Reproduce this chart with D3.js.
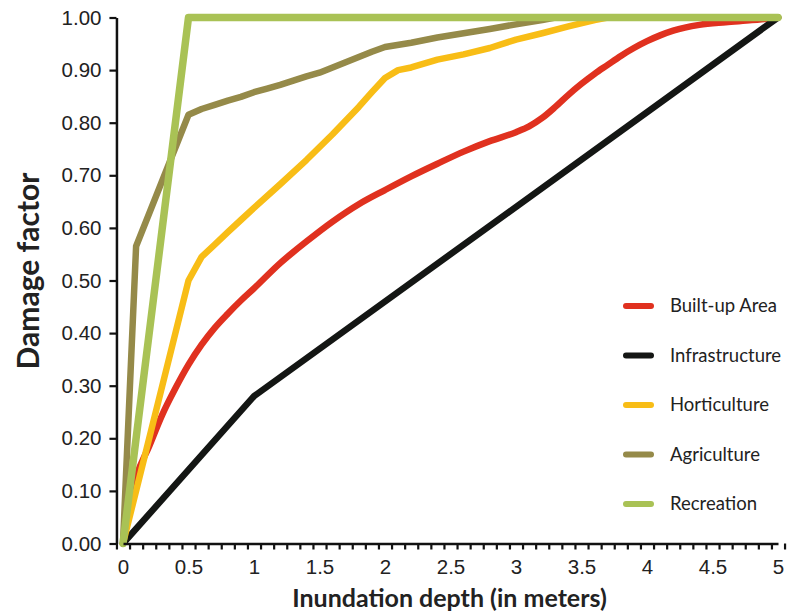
<!DOCTYPE html>
<html>
<head>
<meta charset="utf-8">
<script src="https://cdn.jsdelivr.net/npm/d3@7"></script>
<style>
  html, body { margin: 0; padding: 0; background: #fff; }
  svg { display: block; font-family: Lato, "Open Sans", sans-serif; }
  .axis path, .axis line { stroke: #111; }
  .axis text { fill: #222; }
</style>
</head>
<body>
<svg id="chart" width="790" height="613"></svg>
<script>
// Depth-damage curves: [inundation depth (m), damage factor]
const builtUpArea = [
  [0, 0], [0.1, 0.125], [0.2, 0.185], [0.3, 0.245], [0.4, 0.295], [0.5, 0.34],
  [0.6, 0.378], [0.7, 0.41], [0.8, 0.437], [0.9, 0.462], [1.0, 0.485],
  [1.2, 0.533], [1.4, 0.574], [1.6, 0.612], [1.8, 0.645], [2.0, 0.672],
  [2.2, 0.698], [2.4, 0.722], [2.6, 0.745], [2.8, 0.765], [3.0, 0.782],
  [3.1, 0.793], [3.2, 0.809], [3.3, 0.83], [3.4, 0.853], [3.5, 0.874],
  [3.6, 0.893], [3.7, 0.91], [3.8, 0.927], [3.9, 0.942], [4.0, 0.955],
  [4.1, 0.966], [4.2, 0.975], [4.4, 0.986], [4.6, 0.991], [4.8, 0.995], [5.0, 1.0]
];
const infrastructure = [[0, 0], [1.0, 0.28], [5.0, 1.0]];
const horticulture = [
  [0, 0], [0.5, 0.5], [0.6, 0.545], [0.7, 0.568], [0.8, 0.592], [0.9, 0.615],
  [1.0, 0.638], [1.2, 0.683], [1.4, 0.729], [1.6, 0.778], [1.8, 0.83],
  [1.9, 0.858], [2.0, 0.885], [2.1, 0.9], [2.2, 0.905], [2.4, 0.92],
  [2.6, 0.93], [2.8, 0.942], [3.0, 0.958], [3.2, 0.97], [3.4, 0.983],
  [3.6, 0.995], [3.7, 1.0], [5.0, 1.0]
];
const agriculture = [
  [0, 0], [0.1, 0.565], [0.5, 0.815], [0.6, 0.826], [0.7, 0.834], [0.8, 0.842],
  [0.9, 0.849], [1.0, 0.858], [1.1, 0.865], [1.2, 0.872], [1.3, 0.88],
  [1.4, 0.888], [1.5, 0.895], [1.6, 0.905], [1.7, 0.915], [1.8, 0.925],
  [1.9, 0.935], [2.0, 0.944], [2.2, 0.952], [2.4, 0.962], [2.6, 0.97],
  [2.8, 0.978], [3.0, 0.987], [3.2, 0.995], [3.3, 1.0], [5.0, 1.0]
];
const recreation = [[0, 0], [0.5, 1.0], [5.0, 1.0]];

const seriesNames = ["Built-up Area", "Infrastructure", "Horticulture", "Agriculture", "Recreation"];
const seriesData = [builtUpArea, infrastructure, horticulture, agriculture, recreation];

const xTickLabels = [0, 0.5, 1, 1.5, 2, 2.5, 3, 3.5, 4, 4.5, 5];
const yTickLabels = [0, 0.1, 0.2, 0.3, 0.4, 0.5, 0.6, 0.7, 0.8, 0.9, 1.0];

// Styling per series (same order as the names)
const seriesColors = ["#e0311f", "#141614", "#f8bd16", "#958a49", "#a9c255"];
const seriesWidths = [6.5, 6.5, 6.5, 6.5, 7.5];
const seriesCurves = [d3.curveMonotoneX, d3.curveLinear, d3.curveLinear, d3.curveLinear, d3.curveLinear];

// Category boundaries (0.1 m bins) where the minor ticks sit
const xBinEdges = d3.range(0, 52).map(k => -0.05 + 0.1 * k);

const svg = d3.select("#chart");

const x = d3.scaleLinear().domain([0, 5]).range([123, 778]);
const y = d3.scaleLinear().domain([0, 1]).range([543.5, 17.5]);
const axisLeftX = x(-0.05);
const axisBottomY = y(0);

// Curves (drawn first so the axes sit on top at the origin)
const plot = svg.append("g");
seriesData.forEach((data, i) => {
  const line = d3.line().x(d => x(d[0])).y(d => y(d[1])).curve(seriesCurves[i]);
  plot.append("path")
    .datum(data)
    .attr("d", line)
    .attr("fill", "none")
    .attr("stroke", seriesColors[i])
    .attr("stroke-width", seriesWidths[i])
    .attr("stroke-linejoin", "round")
    .attr("stroke-linecap", "round");
});

// Y axis
const yAxis = svg.append("g")
  .attr("class", "axis")
  .attr("transform", `translate(${axisLeftX},0)`)
  .call(d3.axisLeft(y).tickValues(yTickLabels).tickFormat(d3.format(".2f"))
    .tickSize(7).tickSizeOuter(0).tickPadding(8));
yAxis.select(".domain").attr("stroke-width", 2.5);
yAxis.selectAll(".tick line").attr("stroke-width", 2.2);
yAxis.selectAll("text").attr("font-size", 20.5);

// X axis: minor ticks at bin edges
const xAxis = svg.append("g")
  .attr("class", "axis")
  .attr("transform", `translate(0,${axisBottomY})`)
  .call(d3.axisBottom(x).tickValues(xBinEdges).tickFormat("")
    .tickSize(6).tickSizeOuter(0));
xAxis.select(".domain").attr("stroke-width", 2.5);
xAxis.selectAll(".tick line").attr("stroke-width", 2.2);

// X axis labels
const xLabels = svg.append("g")
  .attr("class", "axis")
  .attr("transform", `translate(0,${axisBottomY})`)
  .call(d3.axisBottom(x).tickValues(xTickLabels).tickFormat(d => String(d))
    .tickSize(0).tickPadding(16));
xLabels.select(".domain").remove();
xLabels.selectAll("text").attr("font-size", 20.5);

// Axis titles
svg.append("text")
  .attr("x", (x(0) + x(5)) / 2 - 1)
  .attr("y", 607)
  .attr("text-anchor", "middle")
  .attr("font-size", 25)
  .attr("font-weight", "bold")
  .attr("fill", "#222")
  .text("Inundation depth (in meters)");

svg.append("text")
  .attr("transform", `translate(39,271) rotate(-90)`)
  .attr("text-anchor", "middle")
  .attr("font-size", 30)
  .attr("font-weight", "bold")
  .attr("fill", "#222")
  .text("Damage factor");

// Legend
const legend = svg.append("g").attr("transform", "translate(626,306)");
seriesNames.forEach((name, i) => {
  const row = legend.append("g").attr("transform", `translate(0,${i * 49.5})`);
  row.append("line")
    .attr("x1", 0).attr("x2", 25)
    .attr("y1", 0).attr("y2", 0)
    .attr("stroke", seriesColors[i])
    .attr("stroke-width", 6)
    .attr("stroke-linecap", "round");
  row.append("text")
    .attr("x", 44)
    .attr("y", 0)
    .attr("dy", "0.35em")
    .attr("font-size", 18.5)
    .attr("fill", "#222")
    .text(name);
});
</script>
</body>
</html>
